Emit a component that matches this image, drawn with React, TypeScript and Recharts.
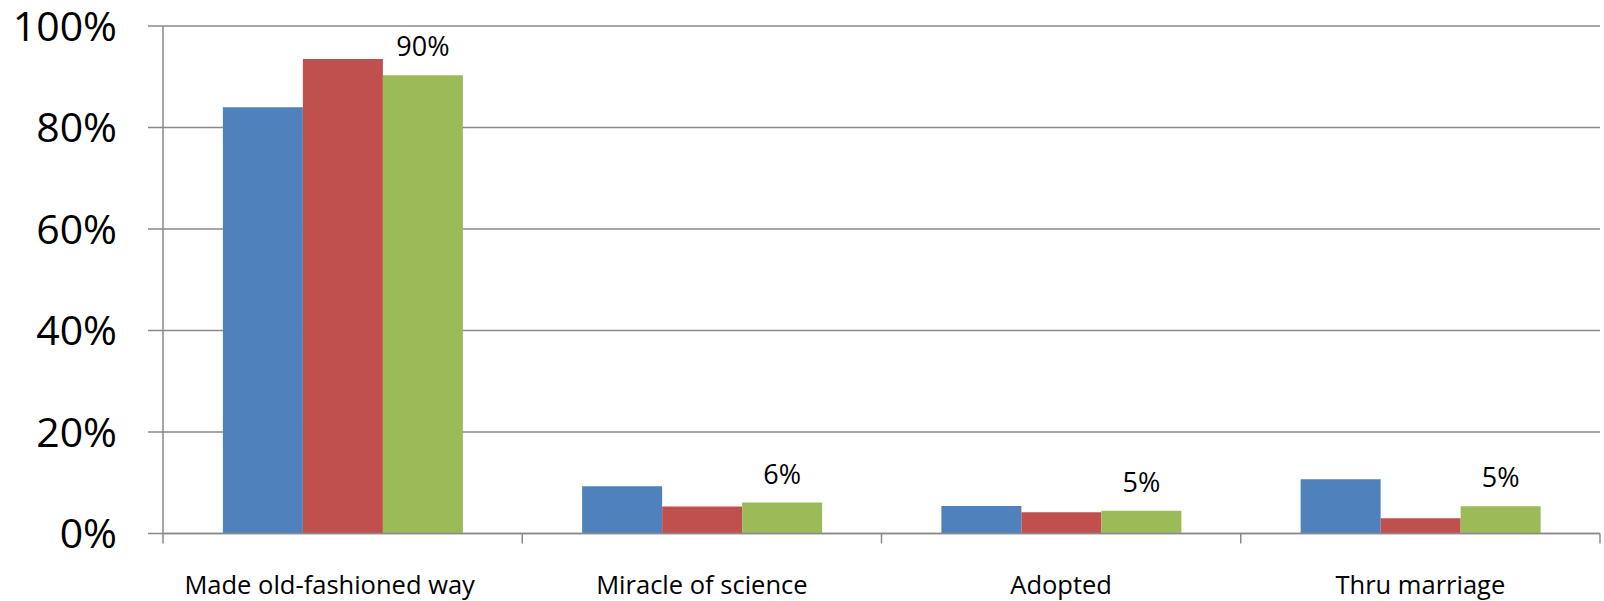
import React from 'react';
import { BarChart, Bar, XAxis, YAxis, CartesianGrid, LabelList } from 'recharts';

const categories = ['Made old-fashioned way', 'Miracle of science', 'Adopted', 'Thru marriage'];
const seriesA = [84, 9.3, 5.4, 10.7];
const seriesB = [93.5, 5.3, 4.2, 3.0];
const seriesC = [90.3, 6.1, 4.5, 5.35];
const yTicks = [0, 20, 40, 60, 80, 100];

const data = categories.map((name, i) => ({
  name,
  a: seriesA[i],
  b: seriesB[i],
  c: seriesC[i],
}));

const W = 1604;
const H = 601;
const Y_AXIS_W = 163;
const RIGHT = 4;
const BAND = (W - Y_AXIS_W - RIGHT) / categories.length;
const GRID = '#8a8a8a';
const FONT = '"Open Sans", sans-serif';

// category label at the centre, tick marks on the category boundaries (Excel style)
const CategoryTick = (props: any) => {
  const { x, y, payload, index } = props;
  const half = BAND / 2;
  const last = index === categories.length - 1;
  // the first label sits a little left of its band in the original
  const dx = index === 0 ? -13 : 0;
  return (
    <g>
      <line x1={x - half} x2={x - half} y1={y} y2={y + 10} stroke={GRID} strokeWidth={1.5} />
      {last && <line x1={x + half} x2={x + half} y1={y} y2={y + 10} stroke={GRID} strokeWidth={1.5} />}
      <text x={x + dx} y={y + 60.5} textAnchor="middle" fontSize={25.5} fontFamily={FONT} fill="#000">
        {payload.value}
      </text>
    </g>
  );
};

export default function App() {
  return (
    <div style={{ position: 'absolute', left: 0, top: 0, width: W, height: H, background: '#fff' }}>
      <BarChart
        width={W}
        height={H}
        data={data}
        margin={{ top: 26, right: RIGHT, left: 0, bottom: 0 }}
        barCategoryGap="16.67%"
        barGap={0}
      >
        <CartesianGrid vertical={false} stroke={GRID} strokeWidth={1.5} />
        <XAxis
          dataKey="name"
          height={67.5}
          interval={0}
          axisLine={{ stroke: GRID, strokeWidth: 1.5 }}
          tickLine={false}
          tickSize={0}
          tickMargin={0}
          tick={<CategoryTick />}
        />
        <YAxis
          width={Y_AXIS_W}
          domain={[0, 100]}
          ticks={yTicks}
          interval={0}
          tickFormatter={(v) => `${v}%`}
          axisLine={{ stroke: GRID, strokeWidth: 1.5 }}
          tickLine={{ stroke: GRID, strokeWidth: 1.5 }}
          tickSize={15}
          tickMargin={31}
          tick={{ fontSize: 41, fontFamily: FONT, fill: '#000' }}
        />
        <Bar dataKey="a" fill="#4F81BD" isAnimationActive={false} />
        <Bar dataKey="b" fill="#C0504D" isAnimationActive={false} />
        <Bar dataKey="c" fill="#9BBB59" isAnimationActive={false}>
          <LabelList
            dataKey="c"
            position="top"
            offset={19}
            formatter={(v: any) => `${Math.round(Number(v))}%`}
            style={{ fontSize: 27, fontFamily: FONT, fill: '#000' }}
          />
        </Bar>
      </BarChart>
    </div>
  );
}
